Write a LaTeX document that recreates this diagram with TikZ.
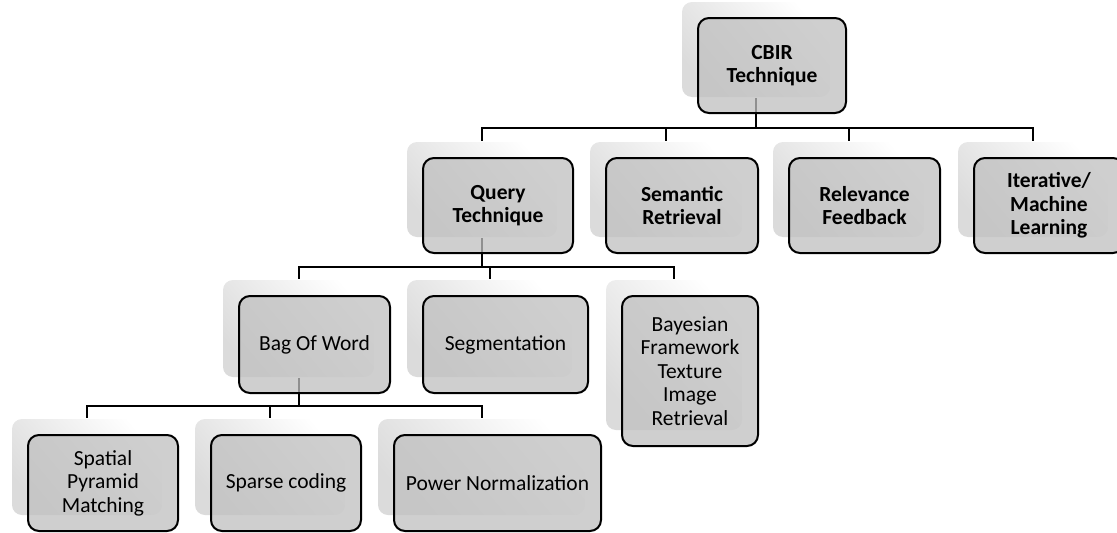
\documentclass[tikz,border=0pt]{standalone}
\usepackage{fontspec}
\setmainfont{Carlito}
\usetikzlibrary{calc}

\begin{document}
\begin{tikzpicture}[
  x=1pt, y=-1pt,
  line width=2pt,
  back/.style={rounded corners=10pt, inner sep=0pt, top color=white, bottom color=black!14,
               shading angle=-50},
  box/.style={draw, rounded corners=11pt, fill=black!25, fill opacity=0.75, text opacity=1,
              inner sep=0pt, align=center, font=\fontsize{21.5}{23.5}\selectfont},
  head/.style={box, font=\fontsize{21.5}{23.5}\selectfont\bfseries},
  sz/.style 2 args={minimum width=#1, minimum height=#2},
  link/.style={line width=2pt},
]
  \useasboundingbox (0,0) rectangle (1117,533);

  % ---- faded back plates (connectors hook onto these) ----
  \node[back, sz={148}{95}]  (cbir)  at (756,49.5)   {};
  \node[back, sz={150}{95}]  (query) at (482,189.5)  {};
  \node[back, sz={152}{95}]  (sem)   at (666,189.5)  {};
  \node[back, sz={151}{95}]  (rel)   at (848.5,189.5) {};
  \node[back, sz={150}{95}]  (iter)  at (1033,189.5) {};
  \node[back, sz={151}{97}]  (bow)   at (298.5,328.5) {};
  \node[back, sz={165}{97}]  (seg)   at (489.5,328.5) {};
  \node[back, sz={136}{150}] (bay)   at (674,355)    {};
  \node[back, sz={150}{96}]  (spm)   at (87,467)     {};
  \node[back, sz={150}{96}]  (spc)   at (270,467)    {};
  \node[back, sz={207}{96}]  (pow)   at (481.5,467)  {};

  % ---- tree connectors ----
  \coordinate (bus1) at ($(cbir.south)+(0,30)$);
  \coordinate (bus2) at ($(query.south)+(0,29)$);
  \coordinate (bus3) at ($(bow.south)+(0,28)$);
  \foreach \c in {query,sem,rel,iter}
    \draw[link] (cbir.south) -- (bus1) -| (\c.north);
  \foreach \c in {bow,seg,bay}
    \draw[link] (query.south) -- (bus2) -| (\c.north);
  \foreach \c in {spm,spc,pow}
    \draw[link] (bow.south) -- (bus3) -| (\c.north);

  % ---- front boxes ----
  \node[head, sz={148}{95}]  (cbir-f)  at ($(cbir)+(16,16)$)  {CBIR\\Technique};
  \node[head, sz={150}{95}]  (query-f) at ($(query)+(16,16)$) {Query\\Technique};
  \node[head, sz={152}{95}]  (sem-f)   at ($(sem)+(16,16)$)   {Semantic\\Retrieval};
  \node[head, sz={151}{95}]  (rel-f)   at ($(rel)+(16,16)$)   {Relevance\\Feedback};
  \node[head, sz={150}{95}]  (iter-f)  at ($(iter)+(16,16)$)  {Iterative/\\Machine\\Learning};
  \node[box, sz={151}{97}]   (bow-f)   at ($(bow)+(16,16)$)   {Bag Of Word};
  \node[box, sz={165}{97}]   (seg-f)   at ($(seg)+(16,16)$)   {Segmentation};
  \node[box, sz={136}{150}]  (bay-f)   at ($(bay)+(16,16)$)   {Bayesian\\Framework\\Texture\\Image\\Retrieval};
  \node[box, sz={150}{96}]   (spm-f)   at ($(spm)+(16,16)$)   {Spatial\\Pyramid\\Matching};
  \node[box, sz={150}{96}]   (spc-f)   at ($(spc)+(16,16)$)   {Sparse coding};
  \node[box, sz={207}{96}]   (pow-f)   at ($(pow)+(16,16)$)   {Power Normalization};
\end{tikzpicture}
\end{document}
